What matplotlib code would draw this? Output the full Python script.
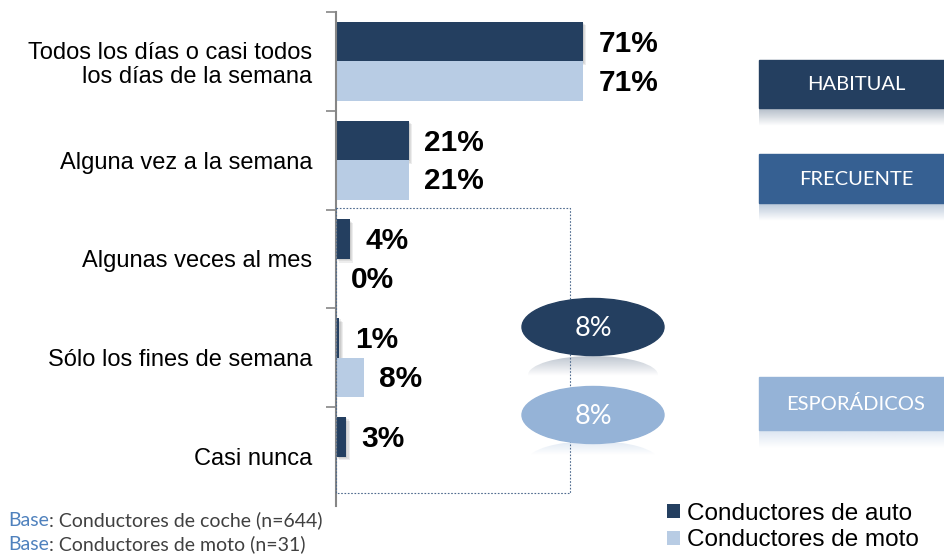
import numpy as np
import matplotlib
matplotlib.use("Agg")
import matplotlib.pyplot as plt
from matplotlib.patches import Rectangle, Ellipse

# data
categories = ["Todos los días o casi todos\nlos días de la semana",
              "Alguna vez a la semana",
              "Algunas veces al mes",
              "Sólo los fines de semana",
              "Casi nunca"]
auto = [71, 21, 4, 1, 3]
moto = [71, 21, 0, 8, np.nan]
series_names = ["Conductores de auto", "Conductores de moto"]
groups = ["HABITUAL", "FRECUENTE", "ESPORÁDICOS"]
sporadic = ["8%", "8%"]
base_notes = [": Conductores de coche (n=644)", ": Conductores de moto (n=31)"]

dark = "#243F60"
light = "#B8CCE4"
mid = "#366092"
pale = "#95B3D7"

W, H = 944, 555
fig = plt.figure(figsize=(W / 100, H / 100), dpi=100)

# main bar axes, placed in pixels
left, right, top, bottom = 336, 944, 12, 506
ax = fig.add_axes([left / W, (H - bottom) / H, (right - left) / W, (bottom - top) / H])
px_per_pct = 3.48
ax.set_xlim(0, (right - left) / px_per_pct)
ax.set_ylim(len(categories) - 0.5, -0.5)

y = np.arange(len(categories))
h = 0.4
# soft shadow behind dark bars (a few faint layers)
for k in (1, 2, 3):
    ax.barh(y - h / 2 + 0.012 * k, auto, height=h, left=0.3 * k, color="#000000",
            alpha=0.07, lw=0, zorder=1)
b1 = ax.barh(y - h / 2, auto, height=h, color=dark, zorder=2, label=series_names[0])
b2 = ax.barh(y + h / 2, np.nan_to_num(moto), height=h, color=light, zorder=2, label=series_names[1])

lab_font = dict(fontsize=21.5, fontweight="bold", family="Liberation Sans", color="black")
for yi, v in zip(y, auto):
    ax.annotate(f"{v}%", (v, yi - h / 2), xytext=(11, -1.5), textcoords="offset points",
                va="center", ha="left", **lab_font)
for yi, v in zip(y, moto):
    if np.isnan(v):
        continue
    ax.annotate(f"{v:.0f}%", (v, yi + h / 2), xytext=(11, -1), textcoords="offset points",
                va="center", ha="left", **lab_font)

for s in ["top", "right", "bottom"]:
    ax.spines[s].set_visible(False)
ax.spines["left"].set_color("#868686")
ax.spines["left"].set_linewidth(1.5)
ax.set_xticks([])
ax.set_yticks(y)
ax.set_yticklabels(categories, fontsize=17, family="Liberation Sans", linespacing=1.1)
ax.tick_params(axis="y", which="major", length=0, pad=17)
ax.set_yticks(np.arange(-0.5, len(categories) - 0.5, 1), minor=True)
ax.tick_params(axis="y", which="minor", length=7, width=1.2, color="#868686")
ax.patch.set_visible(False)

# overlay in pixel coordinates for decorations
ov = fig.add_axes([0, 0, 1, 1], zorder=3)
ov.set_xlim(0, W)
ov.set_ylim(H, 0)
ov.axis("off")
ov.patch.set_visible(False)


def reflection(x0, x1, y0, height, color, alpha=0.35, clip=None):
    rgb = matplotlib.colors.to_rgb(color)
    grad = np.zeros((40, 2, 4))
    grad[..., :3] = rgb
    grad[..., 3] = np.linspace(alpha, 0, 40)[:, None]
    im = ov.imshow(grad, extent=(x0, x1, y0 + height, y0), aspect="auto", zorder=1)
    if clip is not None:
        ov.add_patch(clip)
        im.set_clip_path(clip)


# dotted box around sporadic answers
ov.add_patch(Rectangle((336, 208), 234, 285, fill=False, ls=(0, (1.5, 1.5)),
                       lw=0.8, ec="#4F6B8F", zorder=2))

# group boxes on the right
box_y = [(60, 108), (154, 203), (377, 430)]
box_c = [dark, mid, pale]
for name, (y0, y1), c in zip(groups, box_y, box_c):
    ov.add_patch(Rectangle((759, y0), 200, y1 - y0, color=c, zorder=2))
    reflection(759, 944, y1, 18, c)
    ov.text(856, (y0 + y1) / 2 + 1, name, color="white", fontsize=14.5, family="Lato",
            ha="center", va="center", zorder=3)

# ellipses
ell_y = [327, 415]
ell_c = [dark, pale]
for txt, yc, c in zip(sporadic, ell_y, ell_c):
    ov.add_patch(Ellipse((593, yc), 142, 57, color=c, zorder=3))
    ov.text(593, yc + 1, txt, color="white", fontsize=19.5, family="Lato",
            ha="center", va="center", zorder=4)
# mirrored ellipse reflection under the dark one
clip = Ellipse((593, 375), 130, 38, fc="none", ec="none")
reflection(528, 658, 356, 20, dark, alpha=0.3, clip=clip)
clip2 = Ellipse((593, 460), 130, 38, fc="none", ec="none")
reflection(528, 658, 443, 12, pale, alpha=0.25, clip=clip2)

# base notes, two colours on one baseline
renderer = fig.canvas.get_renderer()
for i, note in enumerate(base_notes):
    yb = 526 + 24 * i
    t = ov.text(8, yb, "Base", color="#4F81BD", fontsize=14, family="Lato",
                ha="left", va="baseline")
    wpx = t.get_window_extent(renderer=renderer).width
    ov.text(8 + wpx, yb, note, color="#404040", fontsize=14, family="Lato",
            ha="left", va="baseline")

fig.legend(handles=[b1, b2], labels=series_names, loc="center left",
           bbox_to_anchor=(652 / W, 1 - 527 / H), frameon=False,
           prop={"family": "Liberation Sans", "size": 17.5},
           handlelength=0.55, handleheight=0.55, handletextpad=0.3, labelspacing=0.2,
           borderpad=0.1)

fig.savefig("out.png", dpi=100)
